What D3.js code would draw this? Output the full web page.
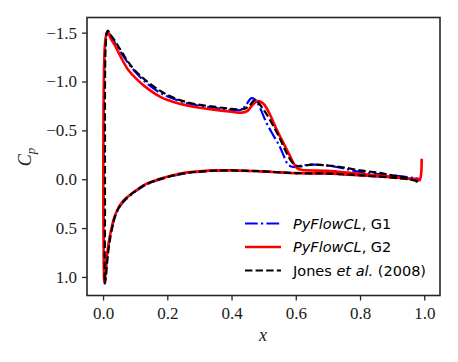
<!DOCTYPE html>
<html><head><meta charset="utf-8">
<script src="https://cdn.jsdelivr.net/npm/d3@7"></script>
<style>
html,body{margin:0;padding:0;background:#fff;}
svg{display:block;}
</style></head>
<body>
<svg id="chart" width="458" height="362"></svg>
<script>
// ---- data (x/c, Cp) : lower surface from LE to TE, upper surface from LE to TE ----
const xTicks = [0.0, 0.2, 0.4, 0.6, 0.8, 1.0];
const yTicks = [-1.5, -1.0, -0.5, 0.0, 0.5, 1.0];

// PyFlowCL, G2 (red)
const g2LowerX  = [0.004, 0.007, 0.010, 0.015, 0.021, 0.030, 0.036, 0.050, 0.065, 0.078, 0.100, 0.130, 0.160, 0.200, 0.250, 0.300, 0.350, 0.400, 0.450, 0.500, 0.550, 0.600, 0.650, 0.700, 0.750, 0.800, 0.850, 0.900, 0.950, 0.980, 0.990];
const g2LowerCp = [1.06, 0.98, 0.86, 0.71, 0.585, 0.45, 0.38, 0.28, 0.215, 0.176, 0.12, 0.056, 0.015, -0.025, -0.063, -0.08, -0.09, -0.09, -0.085, -0.08, -0.07, -0.062, -0.06, -0.058, -0.05, -0.04, -0.03, -0.02, -0.005, 0.0, 0.01];
const g2UpperX  = [0.004, 0.002, 0.001, 0.001, 0.002, 0.004, 0.007, 0.011, 0.014, 0.018, 0.024, 0.036, 0.057, 0.078, 0.100, 0.130, 0.180, 0.230, 0.286, 0.350, 0.400, 0.430, 0.450, 0.465, 0.483, 0.500, 0.520, 0.540, 0.560, 0.580, 0.592, 0.605, 0.620, 0.650, 0.700, 0.750, 0.800, 0.850, 0.900, 0.950, 0.970, 0.985, 0.990, 0.992];
const g2UpperCp = [1.06, 0.80, 0.30, -0.30, -0.90, -1.25, -1.42, -1.49, -1.51, -1.49, -1.44, -1.375, -1.24, -1.12, -1.04, -0.95, -0.84, -0.78, -0.74, -0.71, -0.69, -0.68, -0.70, -0.76, -0.80, -0.77, -0.66, -0.51, -0.38, -0.25, -0.17, -0.11, -0.095, -0.09, -0.085, -0.07, -0.055, -0.04, -0.025, -0.005, 0.005, 0.01, -0.05, -0.21];

// PyFlowCL, G1 (blue)
const g1LowerX  = [0.004, 0.007, 0.010, 0.015, 0.021, 0.030, 0.036, 0.050, 0.065, 0.078, 0.100, 0.130, 0.160, 0.200, 0.250, 0.300, 0.350, 0.400, 0.450, 0.500, 0.550, 0.600, 0.650, 0.700, 0.750, 0.800, 0.850, 0.900, 0.950, 0.980, 0.990];
const g1LowerCp = [1.05, 0.99, 0.88, 0.73, 0.60, 0.465, 0.395, 0.29, 0.225, 0.185, 0.128, 0.062, 0.02, -0.02, -0.058, -0.076, -0.086, -0.088, -0.084, -0.078, -0.07, -0.062, -0.06, -0.058, -0.05, -0.04, -0.03, -0.02, -0.008, 0.0, 0.005];
const g1UpperX  = [0.004, 0.003, 0.002, 0.002, 0.003, 0.005, 0.008, 0.011, 0.014, 0.018, 0.024, 0.036, 0.057, 0.078, 0.100, 0.130, 0.180, 0.230, 0.286, 0.350, 0.400, 0.430, 0.445, 0.462, 0.475, 0.490, 0.509, 0.530, 0.550, 0.565, 0.576, 0.592, 0.620, 0.654, 0.700, 0.750, 0.800, 0.850, 0.900, 0.950, 0.970, 0.990];
const g1UpperCp = [1.05, 0.80, 0.30, -0.30, -0.90, -1.26, -1.43, -1.49, -1.51, -1.50, -1.46, -1.40, -1.29, -1.19, -1.10, -1.00, -0.88, -0.81, -0.76, -0.73, -0.71, -0.71, -0.76, -0.83, -0.81, -0.72, -0.575, -0.45, -0.335, -0.22, -0.15, -0.125, -0.14, -0.15, -0.14, -0.11, -0.075, -0.055, -0.04, -0.02, -0.01, 0.0];

// Jones et al. (2008) (black dashed)
const jonesLowerX  = [0.006, 0.009, 0.012, 0.017, 0.023, 0.030, 0.036, 0.050, 0.065, 0.078, 0.100, 0.130, 0.160, 0.200, 0.250, 0.300, 0.350, 0.400, 0.450, 0.500, 0.550, 0.600, 0.650, 0.700, 0.750, 0.800, 0.850, 0.900, 0.950, 0.980];
const jonesLowerCp = [1.07, 1.0, 0.88, 0.72, 0.59, 0.47, 0.39, 0.285, 0.22, 0.18, 0.122, 0.058, 0.017, -0.022, -0.06, -0.078, -0.088, -0.09, -0.086, -0.08, -0.07, -0.062, -0.06, -0.058, -0.05, -0.04, -0.03, -0.015, 0.0, 0.02];
const jonesUpperX  = [0.006, 0.006, 0.006, 0.006, 0.007, 0.009, 0.012, 0.015, 0.019, 0.025, 0.036, 0.057, 0.078, 0.100, 0.130, 0.180, 0.230, 0.286, 0.350, 0.400, 0.440, 0.455, 0.473, 0.500, 0.525, 0.550, 0.571, 0.587, 0.600, 0.613, 0.650, 0.700, 0.750, 0.800, 0.850, 0.900, 0.950, 0.980];
const jonesUpperCp = [1.07, 0.40, -0.30, -0.90, -1.25, -1.42, -1.50, -1.52, -1.50, -1.47, -1.42, -1.31, -1.20, -1.11, -1.02, -0.90, -0.82, -0.77, -0.74, -0.72, -0.72, -0.75, -0.81, -0.71, -0.575, -0.42, -0.27, -0.18, -0.14, -0.13, -0.15, -0.14, -0.12, -0.09, -0.07, -0.04, -0.01, 0.03];

// ---- build ----
function loop(lx, lc, ux, uc) {
  const pts = [];
  for (let i = lx.length - 1; i >= 0; i--) pts.push([lx[i], lc[i]]);
  for (let i = 1; i < ux.length; i++) pts.push([ux[i], uc[i]]);
  return pts;
}
const series = [
  {pts: loop(g1LowerX, g1LowerCp, g1UpperX, g1UpperCp), color: "#0000ff", width: 2.2, dash: "12.8,3.2,2.2,3.2"},
  {pts: loop(g2LowerX, g2LowerCp, g2UpperX, g2UpperCp), color: "#ff0000", width: 2.6, dash: null},
  {pts: loop(jonesLowerX, jonesLowerCp, jonesUpperX, jonesUpperCp), color: "#000000", width: 2.2, dash: "7.4,3.2"}
];

const svg = d3.select("#chart");
const L = 87, R = 440, T = 17.5, B = 295.5;
const x = d3.scaleLinear().domain([-0.05, 1.049]).range([L, R]);
const y = d3.scaleLinear().domain([-1.655, 1.19]).range([T, B]);

svg.append("clipPath").attr("id", "clp").append("rect")
  .attr("x", L).attr("y", T).attr("width", R - L).attr("height", B - T);

const line = d3.line().x(d => x(d[0])).y(d => y(d[1])).curve(d3.curveCatmullRom.alpha(0.5));

const gLines = svg.append("g").attr("clip-path", "url(#clp)");
series.forEach(s => {
  gLines.append("path").attr("d", line(s.pts))
    .attr("fill", "none").attr("stroke", s.color).attr("stroke-width", s.width)
    .attr("stroke-linejoin", "round")
    .attr("stroke-dasharray", s.dash);
});

// axes
const fmt = d3.format(".1f");
const serif = "'Liberation Serif', 'Times New Roman', serif";
const xAxis = svg.append("g").attr("transform", `translate(0,${B})`)
  .call(d3.axisBottom(x).tickValues(xTicks).tickFormat(fmt).tickSize(5).tickPadding(6));
const yAxis = svg.append("g").attr("transform", `translate(${L},0)`)
  .call(d3.axisLeft(y).tickValues(yTicks).tickFormat(fmt).tickSize(5).tickPadding(5));
[xAxis, yAxis].forEach(a => {
  a.select(".domain").remove();
  a.selectAll(".tick line").attr("stroke", "#262626").attr("stroke-width", 1.3);
  a.selectAll(".tick text").attr("fill", "#1a1a1a").style("font-family", serif).style("font-size", "17px");
});

svg.append("rect").attr("x", L).attr("y", T).attr("width", R - L).attr("height", B - T)
  .attr("fill", "none").attr("stroke", "#262626").attr("stroke-width", 1.6);

// axis labels
svg.append("text").attr("x", 263).attr("y", 341).attr("text-anchor", "middle")
  .style("font-family", serif).style("font-size", "18px").style("font-style", "italic").attr("fill", "#1a1a1a").text("x");
const yl = svg.append("text").attr("transform", "translate(31,157) rotate(-90)").attr("text-anchor", "middle")
  .style("font-family", serif).style("font-size", "18px").attr("fill", "#1a1a1a");
yl.append("tspan").style("font-style", "italic").text("C");
yl.append("tspan").attr("dy", 4).style("font-size", "13px").style("font-style", "italic").text("p");

// legend
const legRows = [
  {s: series[0], it: "PyFlowCL", rest: ", G1"},
  {s: series[1], it: "PyFlowCL", rest: ", G2"},
  {s: series[2], pre: "Jones ", it: "et al.", rest: " (2008)"}
];
const legY = [223.5, 247, 270.5];
legRows.forEach((r, i) => {
  const g = svg.append("g");
  g.append("line").attr("x1", 245).attr("x2", 281).attr("y1", legY[i]).attr("y2", legY[i])
    .attr("stroke", r.s.color).attr("stroke-width", r.s.width).attr("stroke-dasharray", r.s.dash);
  const t = g.append("text").attr("x", 293).attr("y", legY[i] + 5)
    .style("font-family", "'DejaVu Sans', sans-serif").style("font-size", "14.5px").attr("fill", "#000");
  if (r.pre) t.append("tspan").text(r.pre);
  t.append("tspan").style("font-style", "italic").text(r.it);
  t.append("tspan").text(r.rest);
});
</script>
</body></html>
